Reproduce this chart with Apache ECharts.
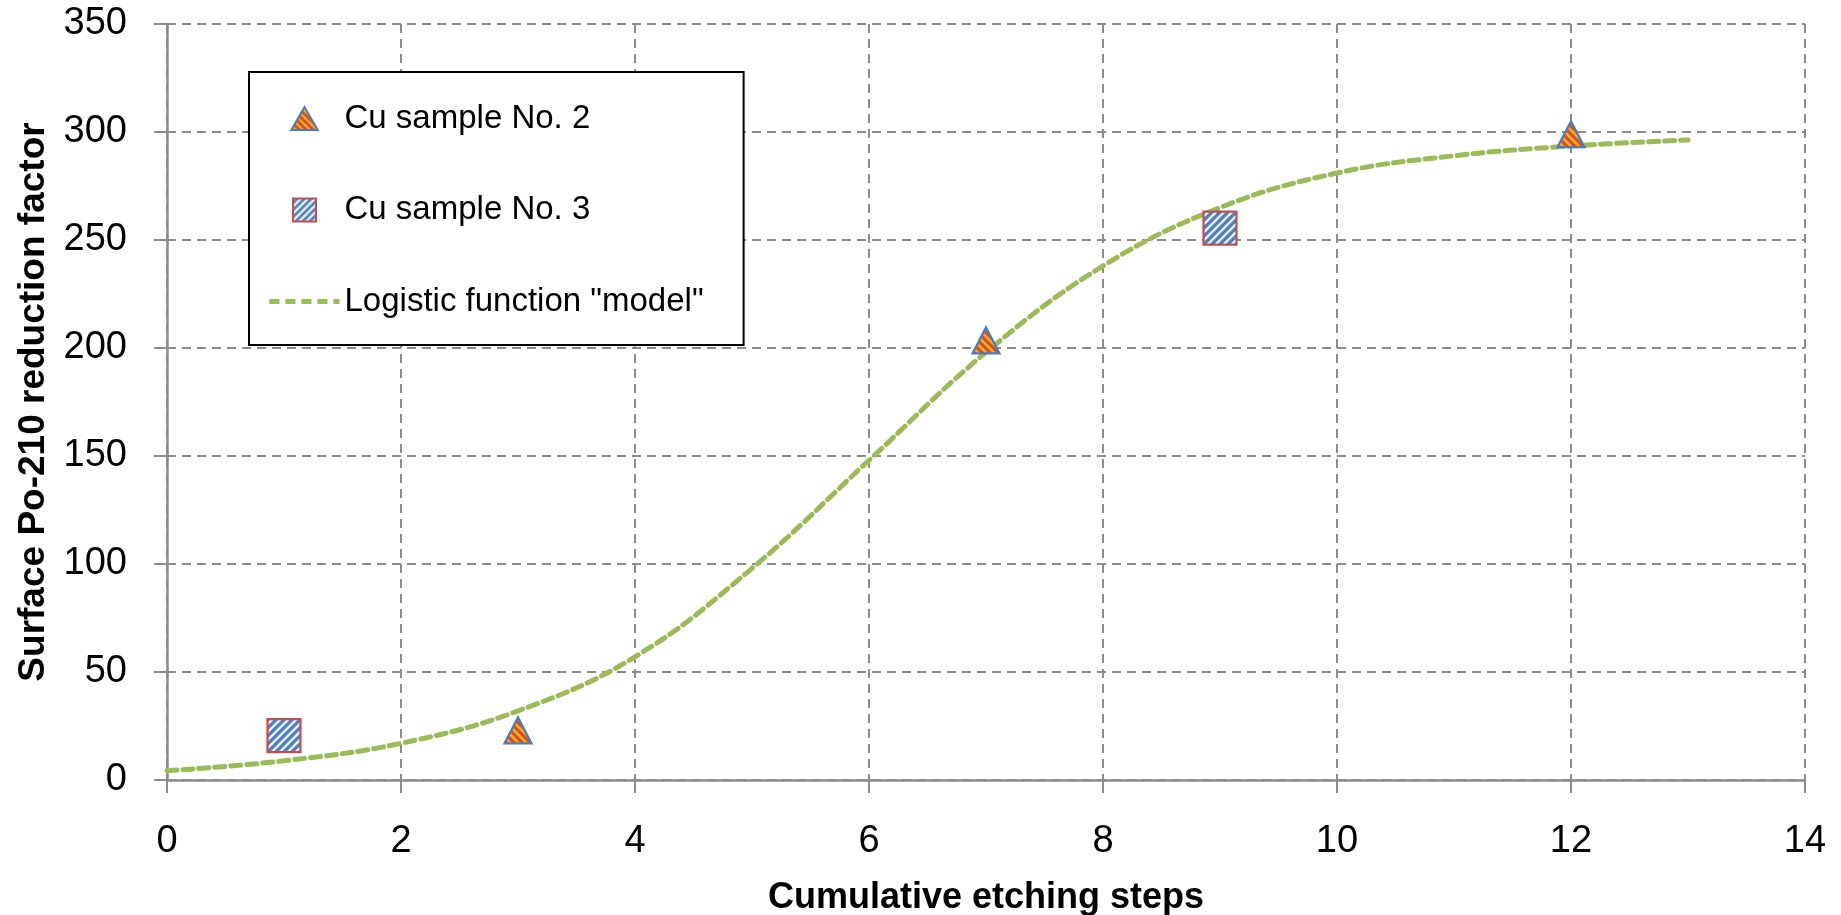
<!DOCTYPE html>
<html>
<head>
<meta charset="utf-8">
<title>Surface Po-210 reduction factor</title>
<script src="https://cdn.jsdelivr.net/npm/echarts@6/dist/echarts.min.js"></script>
<style>
  html, body { margin: 0; padding: 0; background: #ffffff; }
  #chart { width: 1841px; height: 915px; }
</style>
</head>
<body>
<div id="chart"></div>
<script>
// Measured reduction factors for the two copper samples
const sample2Steps  = [3, 7, 12];
const sample2Values = [23, 203.5, 299];
const sample3Steps  = [1, 9];
const sample3Values = [20.5, 255.5];

// Logistic fit evaluated at each cumulative etching step
const modelSteps  = [0, 1, 2, 3, 4, 5, 6, 7, 8, 9, 10, 11, 12, 13];
const modelValues = [4.3, 8.9, 17, 32, 57, 98, 148, 198, 238, 265, 281, 289, 293.5, 296.3];

const xTicks = [0, 2, 4, 6, 8, 10, 12, 14];
const yTicks = [0, 50, 100, 150, 200, 250, 300, 350];

const seriesNames = ['Cu sample No. 2', 'Cu sample No. 3', 'Logistic function "model"'];

// Marker sizes in pixels
const TRI_SIZE = [27, 26];
const SQ_SIZE = [33, 33];

// Diagonal-stripe tile; sx/sy undo the symbol's own scaling so the
// stripes keep a constant pixel width on the plotted markers.
function stripeTile(bg, fg, size, width, forward, sx, sy) {
  const c = document.createElement('canvas');
  c.width = size; c.height = size;
  const g = c.getContext('2d');
  g.fillStyle = bg;
  g.fillRect(0, 0, size, size);
  g.strokeStyle = fg;
  g.lineWidth = width;
  const segs = forward
    ? [[-size, size, size, -size], [0, size * 2, size * 2, 0], [0, size, size, 0]]
    : [[-size, 0, size, size * 2], [0, -size, size * 2, size], [0, 0, size, size]];
  segs.forEach(function (s) {
    g.beginPath(); g.moveTo(s[0], s[1]); g.lineTo(s[2], s[3]); g.stroke();
  });
  return { image: c, repeat: 'repeat', scaleX: sx || 1, scaleY: sy || 1 };
}

// Scatter symbols are built at unit size 2 and scaled by size / 2
const orangeMarker = stripeTile('#FFB21C', '#D0502E', 8, 3.2, false, 2 / TRI_SIZE[0], 2 / TRI_SIZE[1]);
const blueMarker   = stripeTile('#FFFFFF', '#4F81BD', 8, 3.4, true, 2 / SQ_SIZE[0], 2 / SQ_SIZE[1]);
const orangeIcon   = stripeTile('#FFB21C', '#D0502E', 7, 3.0, false);
const blueIcon     = stripeTile('#FFFFFF', '#4F81BD', 7, 3.0, true);

function pairs(xs, ys) { return xs.map(function (x, i) { return [x, ys[i]]; }); }

const FONT = '"Liberation Sans", Arial, sans-serif';
const AXIS_GREY = '#8C8C8C';
const MODEL_GREEN = '#9BBB59';

const chart = echarts.init(document.getElementById('chart'), null, { renderer: 'canvas' });

chart.setOption({
  animation: false,
  backgroundColor: '#ffffff',
  grid: { left: 167, right: 36, top: 24, bottom: 135, containLabel: false, outerBoundsMode: 'none' },
  xAxis: {
    type: 'value',
    min: xTicks[0],
    max: xTicks[xTicks.length - 1],
    interval: xTicks[1] - xTicks[0],
    name: 'Cumulative etching steps',
    nameLocation: 'middle',
    nameGap: 100,
    nameTextStyle: { fontFamily: FONT, fontSize: 36, fontWeight: 'bold', color: '#000', lineHeight: 36 },
    axisLine: { show: true, onZero: false, lineStyle: { color: AXIS_GREY, width: 2.5 } },
    axisTick: { show: true, length: 13, inside: false, lineStyle: { color: AXIS_GREY, width: 2 } },
    axisLabel: { margin: 43, fontFamily: FONT, fontSize: 38, color: '#000', lineHeight: 38 },
    splitLine: { show: true, lineStyle: { color: AXIS_GREY, width: 2, type: [9, 6] } }
  },
  yAxis: {
    type: 'value',
    min: yTicks[0],
    max: yTicks[yTicks.length - 1],
    interval: yTicks[1] - yTicks[0],
    name: 'Surface Po-210 reduction factor',
    nameLocation: 'middle',
    nameGap: 113,
    nameTextStyle: { fontFamily: FONT, fontSize: 37, fontWeight: 'bold', color: '#000', lineHeight: 37 },
    axisLine: { show: true, onZero: false, lineStyle: { color: AXIS_GREY, width: 2.5 } },
    axisTick: { show: true, length: 13, inside: false, lineStyle: { color: AXIS_GREY, width: 2 } },
    axisLabel: { margin: 40, fontFamily: FONT, fontSize: 38, color: '#000', lineHeight: 38 },
    splitLine: { show: true, lineStyle: { color: AXIS_GREY, width: 2, type: [9, 6] } }
  },
  legend: {
    show: true,
    orient: 'vertical',
    left: 249,
    top: 72,
    padding: [30, 40, 27, 18],
    itemWidth: 70,
    itemHeight: 23,
    itemGap: 58.5,
    backgroundColor: '#ffffff',
    borderColor: '#000000',
    borderWidth: 2,
    borderRadius: 0,
    selectedMode: false,
    symbolKeepAspect: true,
    textStyle: { fontFamily: FONT, fontSize: 33, color: '#000', lineHeight: 30 },
    data: [
      {
        name: seriesNames[0],
        icon: 'path://M0 20L11.5 0L23 20Z',
        symbolKeepAspect: true,
        itemStyle: { color: orangeIcon, borderColor: '#4A7EBB', borderWidth: 2 }
      },
      {
        name: seriesNames[1],
        icon: 'path://M0 0H20V20H0Z',
        symbolKeepAspect: true,
        itemStyle: { color: blueIcon, borderColor: '#C0504D', borderWidth: 2 }
      },
      {
        name: seriesNames[2],
        icon: 'line',
        symbolKeepAspect: false,
        itemStyle: { color: MODEL_GREEN, borderColor: MODEL_GREEN, borderWidth: 5, borderType: [10, 6] }
      }
    ]
  },
  series: [
    {
      name: seriesNames[2],
      type: 'line',
      data: pairs(modelSteps, modelValues),
      smooth: 0.4,
      symbol: 'none',
      silent: true,
      z: 2,
      lineStyle: { color: MODEL_GREEN, width: 5, type: [10, 6], cap: 'round' },
      itemStyle: { color: MODEL_GREEN }
    },
    {
      name: seriesNames[0],
      type: 'scatter',
      data: pairs(sample2Steps, sample2Values),
      symbol: 'triangle',
      symbolSize: TRI_SIZE,
      silent: true,
      z: 3,
      itemStyle: { color: orangeMarker, borderColor: '#4A7EBB', borderWidth: 2.2, opacity: 1 }
    },
    {
      name: seriesNames[1],
      type: 'scatter',
      data: pairs(sample3Steps, sample3Values),
      symbol: 'rect',
      symbolSize: SQ_SIZE,
      silent: true,
      z: 3,
      itemStyle: { color: blueMarker, borderColor: '#C0504D', borderWidth: 2.2, opacity: 1 }
    }
  ]
});
</script>
</body>
</html>
